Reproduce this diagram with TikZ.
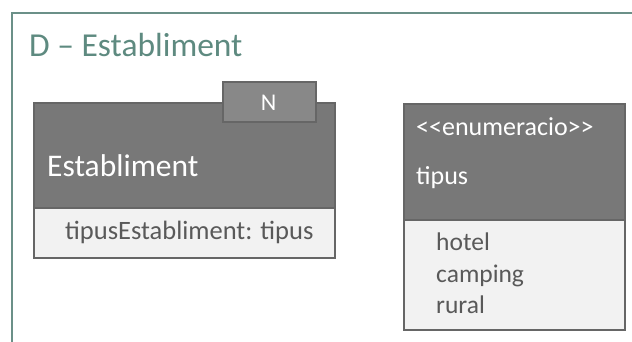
\documentclass[tikz,border=0pt]{standalone}
\usepackage{fontspec}
\setmainfont{Carlito}
\definecolor{frameteal}{HTML}{6B9088}
\definecolor{titleteal}{HTML}{5E8A80}
\definecolor{headfill}{HTML}{787878}
\definecolor{tabfill}{HTML}{888888}
\definecolor{boxline}{HTML}{666666}
\definecolor{bodyfill}{HTML}{F2F2F2}
\definecolor{bodytext}{HTML}{595959}
\newcommand{\fsz}[1]{\fontsize{#1}{#1}\selectfont}
\tikzset{
  panel/.style={draw=frameteal, line width=2.4pt},
  headbox/.style={draw=boxline, fill=headfill, line width=2.4pt, rectangle,
    anchor=north west, inner sep=0pt},
  bodybox/.style={draw=boxline, fill=bodyfill, line width=2.4pt, rectangle,
    anchor=north west, inner sep=0pt},
  tabbox/.style={draw=boxline, fill=tabfill, line width=2.4pt, rectangle,
    anchor=north west, inner sep=0pt},
  headtxt/.style={text=white, inner sep=0pt, anchor=base west},
  bodytxt/.style={text=bodytext, inner sep=0pt, anchor=base west},
}
\begin{document}
\begin{tikzpicture}[x=1pt, y=-1pt]
\useasboundingbox (0,0) rectangle (632,342);
\clip (0,0) rectangle (632,342);
% outer panel
\draw[panel] (12,13) rectangle (660,370);
\node[text=titleteal, inner sep=0pt, anchor=base west] (title) at (29,57) {\fsz{33.5}D -- Establiment};

% class Establiment
\node[headbox, minimum width=301pt, minimum height=105pt] (esthead) at (33,102) {};
\node[bodybox, minimum width=301pt, minimum height=50pt] (estbody) at (33,207) {};
\node[tabbox, minimum width=93pt, minimum height=40pt] (tab) at (222,81) {};
\node[text=white, inner sep=0pt, anchor=base] (tabN) at (268.5,111) {\fsz{24}N};
\node[headtxt] (estname) at (47,176) {\fsz{31.5}Establiment};
\node[bodytxt] (estattr) at (65,239) {\fsz{26.5}tipusEstabliment: tipus};

% enumeration tipus
\node[headbox, minimum width=221pt, minimum height=116pt] (enumhead) at (403,103) {};
\node[bodybox, minimum width=221pt, minimum height=110pt] (enumbody) at (403,219) {};
\node[headtxt] (stereo) at (416,136) {\fsz{26}<{}<enumeracio>{}>};
\node[headtxt] (enumname) at (416,185) {\fsz{26}tipus};
\node[bodytxt] (v1) at (436,250) {\fsz{25.5}hotel};
\node[bodytxt] (v2) at (436,282) {\fsz{25.5}camping};
\node[bodytxt] (v3) at (436,313) {\fsz{25.5}rural};
\end{tikzpicture}
\end{document}
